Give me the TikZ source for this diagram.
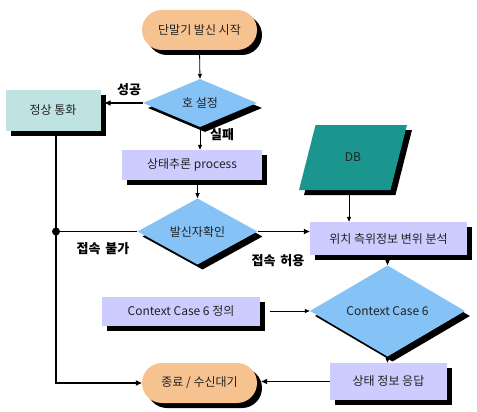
\documentclass[tikz,border=0pt]{standalone}
\usepackage{fontspec}
\setmainfont{Noto Sans CJK KR}
\usetikzlibrary{shapes.geometric,shapes.misc,shadows,arrows.meta}
\definecolor{peach}{HTML}{F6C28F}
\definecolor{dblue}{HTML}{85C2F5}
\definecolor{lteal}{HTML}{BEE3E2}
\definecolor{lav}{HTML}{CCCCFF}
\definecolor{dbteal}{HTML}{1A968E}
\definecolor{txt}{HTML}{222222}
\tikzset{
  shad/.style={general shadow={fill=black, shadow xshift=5pt, shadow yshift=-5pt}},
  base/.style={shad, inner sep=0pt, text=txt, font=\fontsize{12}{14}\selectfont},
  term/.style={base, rounded rectangle, fill=peach, minimum width=115pt, minimum height=40pt},
  dec/.style={base, diamond, fill=dblue},
  proc/.style={base, rectangle, fill=lav},
  lbl/.style={font=\fontsize{13}{15}\selectfont\bfseries, text=black},
  arr/.style={draw=black, line width=0.8pt, -{Triangle[length=5pt,width=4pt]}},
  tarr/.style={draw=black, line width=1.6pt, -{Triangle[length=6pt,width=5pt]}},
  tline/.style={draw=black, line width=1.6pt},
}
\begin{document}
\begin{tikzpicture}[x=1pt,y=-1pt]
\useasboundingbox (0,0) rectangle (477,412);
% nodes
\node[term] (start) at (199.5,30) {단말기 발신 시작};
\node[dec, minimum width=114pt, minimum height=48pt] (call) at (200,103) {호 설정};
\node[base, rectangle, fill=lteal, minimum width=95pt, minimum height=41pt] (normal) at (53,110.5) {정상 통화};
\node[proc, minimum width=140pt, minimum height=30pt] (infer) at (192,165) {상태추론 process};
\node[base, trapezium, trapezium left angle=68, trapezium right angle=112, trapezium stretches=true, fill=dbteal, minimum width=108pt, minimum height=65pt] (db) at (353,157.5) {DB};
\node[dec, minimum width=120pt, minimum height=47pt] (caller) at (197.5,231.5) {발신자확인};
\node[proc, minimum width=157pt, minimum height=33pt] (loc) at (388.5,238.5) {위치 측위정보 변위 분석};
\node[dec, minimum width=155pt, minimum height=62pt] (ctx) at (387.5,311) {Context Case 6};
\node[proc, minimum width=158pt, minimum height=29pt] (def) at (181,311) {Context Case 6 정의};
\node[proc, minimum width=117pt, minimum height=37pt] (resp) at (388.5,381.5) {상태 정보 응답};
\node[term] (end) at (199.5,383) {종료 / 수신대기};
\coordinate (dot) at (56,231.5);
% labels
\node[lbl] (l1) at (129,90) {성공};
\node[lbl] (l2) at (222,135) {실패};
\node[lbl] (l3) at (103,249) {접속\hspace{5pt}불가};
\node[lbl] (l4) at (278,261) {접속\hspace{5pt}허용};
% connectors
\draw[arr, shorten <=5pt] (start.south) -- (call.north);
\draw[tarr, shorten >=4pt] (call.west) -- (normal.east |- call.west);
\draw[arr] (call.south) -- (call.south |- infer.north);
\draw[arr, shorten <=5pt] (caller.north |- infer.south) -- (caller.north);
\draw[tline] (normal.south -| dot) -- (dot);
\draw[tarr] (dot) -- (dot |- end.west) -- (end.west);
\draw[tline] (caller.west) -- (dot);
\fill (dot) circle (4pt);
\draw[tarr] (caller.east) -- (caller.east -| loc.west);
\draw[arr, shorten <=5pt] ([xshift=-4pt]db.south) -- ([xshift=-4pt]db.south |- loc.north);
\draw[arr, shorten <=5pt] (ctx.north |- loc.south) -- (ctx.north);
\draw[arr, shorten <=10pt] (def.east) -- (ctx.west);
\draw[arr, shorten <=5pt] (ctx.south) -- (ctx.south |- resp.north);
\draw[tarr, shorten >=4pt] (resp.west) -- (resp.west -| end.east);
\end{tikzpicture}
\end{document}
